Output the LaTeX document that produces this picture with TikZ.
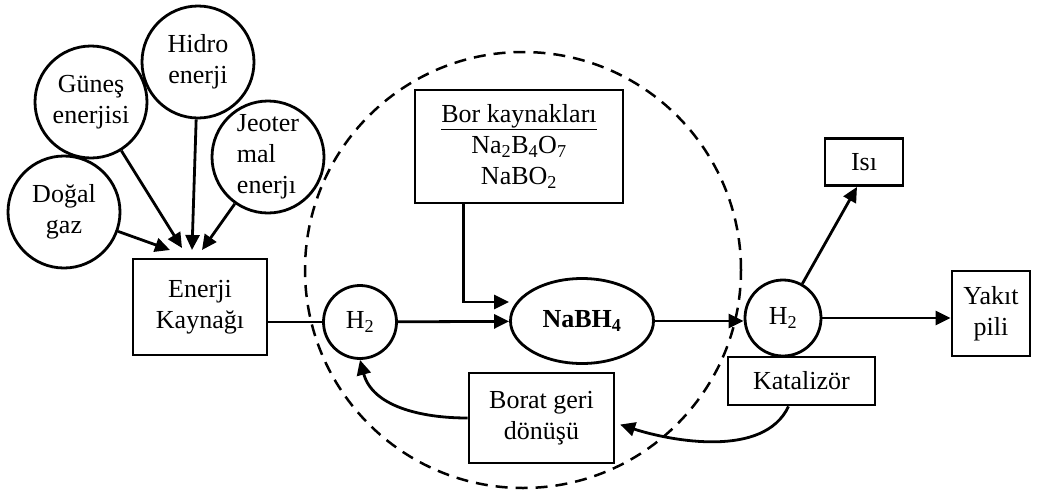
\documentclass[tikz,border=0pt]{standalone}
\usepackage{fontspec}
\setmainfont{Liberation Serif}
\usetikzlibrary{arrows.meta,shapes.geometric}
\begin{document}
\begin{tikzpicture}[x=1pt,y=1pt,
  every node/.style={font=\fontsize{26}{31}\selectfont, line width=2.8pt, inner sep=0pt, align=center},
  src/.style={draw, circle, minimum size=112pt},
  box/.style={draw, rectangle},
  gas/.style={draw, circle, minimum size=73pt},
  link/.style={line width=2.8pt},
  arr/.style={link, -{Triangle[length=15pt,width=14pt]}}]
\useasboundingbox (0,0) rectangle (1058,-496);

% boundary of the borohydride cycle
\draw[line width=2.5pt, dash pattern=on 12pt off 8pt] (523,-270) circle[radius=218pt];

% energy sources
\node[src] (dg)  at (64,-212)  {Doğal\\gaz};
\node[src] (gun) at (91,-102)  {Güneş\\enerjisi};
\node[src] (hid) at (198,-62)  {Hidro\\enerji};
\node[src, align=left] (jeo) at (268,-157) {Jeoter\\mal\\enerjı};

\node[box, minimum width=134pt, minimum height=96pt] (ek) at (200,-307) {Enerji\\Kaynağı};

% cycle components
\node[box, minimum width=208pt, minimum height=113pt] (bor) at (519,-146.5)
  {\underline{Bor kaynakları}\\Na\textsubscript{2}B\textsubscript{4}O\textsubscript{7}\\NaBO\textsubscript{2}};
\node[gas] (h2l) at (360,-322) {H\textsubscript{2}};
\node[draw, ellipse, minimum width=143pt, minimum height=85pt] (nabh4) at (582,-321) {\textbf{NaBH\textsubscript{4}}};
\node[gas, minimum size=76pt] (h2r) at (783,-318) {H\textsubscript{2}};
\node[box, minimum width=145pt, minimum height=90pt] (borat) at (541.5,-418) {Borat geri\\dönüşü};

% outputs
\node[box, minimum width=78pt, minimum height=47pt] (isi) at (864,-162) {Isı};
\node[box, minimum width=78pt, minimum height=85pt] (yakit) at (991,-313.5) {Yakıt\\pili};
\node[box, minimum width=147pt, minimum height=48pt] (kat) at (801.5,-381) {Katalizör};

% arrow targets above the energy source box
\coordinate (t1) at (170,-250);
\coordinate (t2) at (182,-248);
\coordinate (t3) at (192,-250);
\coordinate (t4) at (202,-250);

\draw[arr] (dg) -- (t1);
\draw[arr] (gun) -- (t2);
\draw[arr] (hid) -- (t3);
\draw[arr] (jeo) -- (t4);

\draw[link] (ek.east |- h2l.west) -- (h2l.west);
\draw[arr] (h2l) -- (nabh4);
\draw[arr] ([xshift=50pt]bor.south west) |- ([yshift=19pt]nabh4.west);
\draw[arr] (nabh4.east) -- (nabh4.east -| h2r.west);
\draw[arr] (h2r.east) -- (h2r.east -| yakit.west);
\draw[arr] (h2r) -- ([xshift=-7pt]isi.south);
\draw[arr] (borat.west) to[out=180, in=-75] (h2l.south);
\draw[arr, shorten >=5pt] ([xshift=-13pt]kat.south) to[out=-115, in=-18, looseness=0.85] ([yshift=-5pt]borat.east);
\end{tikzpicture}
\end{document}
